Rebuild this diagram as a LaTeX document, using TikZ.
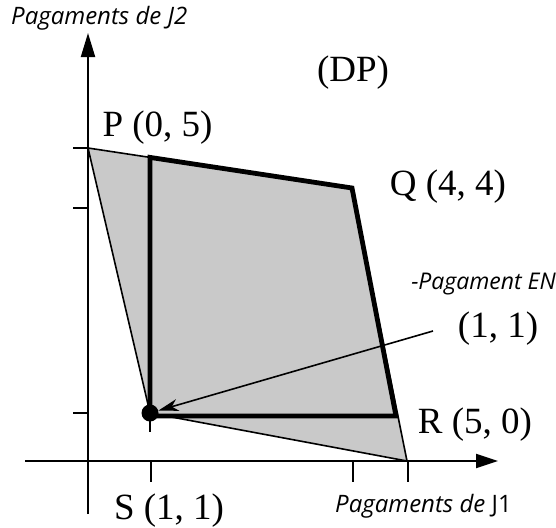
\documentclass[tikz,border=0pt]{standalone}
\usepackage{fontspec}
\setmainfont{Liberation Serif}
\newfontfamily\lblsans{Open Sans}
\usetikzlibrary{arrows.meta}
\tikzset{
  regionfill/.style={fill=black!21},
  thinedge/.style={draw=black, line width=1.6pt, line join=miter},
  thickedge/.style={draw=black, line width=4.8pt, line join=miter},
  axisline/.style={draw=black, line width=2pt},
  tickline/.style={draw=black, line width=2pt},
  seriflbl/.style={inner sep=0pt, font=\fontsize{37}{42}\selectfont},
  sanslbl/.style={inner sep=0pt, font=\lblsans\itshape\fontsize{24}{28}\selectfont},
}
\begin{document}
\begin{tikzpicture}[x=1pt,y=-1pt]
\useasboundingbox (0,0) rectangle (556,527);
% key points
\coordinate (P) at (88,148);
\coordinate (Q) at (352,188);
\coordinate (R) at (407,461);
\coordinate (S) at (150,413);
\coordinate (A) at (150,157.4);
\coordinate (B) at (396,416);
\coordinate (C) at (150,416);
% region
\fill[regionfill] (P) -- (Q) -- (R) -- (S) -- cycle;
\draw[thinedge] (P) -- (Q) -- (R) -- (S) -- cycle;
\draw[thickedge] (A) -- (Q) -- (B) -- (C) -- cycle;
% axes
\coordinate (xa0) at (25,461);
\coordinate (xa1) at (498,461);
\coordinate (ya0) at (88,514);
\coordinate (ya1) at (88,33);
\draw[axisline, -{Triangle[length=22pt,width=14pt]}] (xa0) -- (xa1);
\draw[axisline, -{Triangle[length=24pt,width=14pt]}] (ya0) -- (ya1);
% ticks
\coordinate (tx1a) at (151,461); \coordinate (tx1b) at (151,482);
\coordinate (tx2a) at (353,461); \coordinate (tx2b) at (353,482);
\coordinate (tx3a) at (408,461); \coordinate (tx3b) at (408,482);
\coordinate (ty1a) at (73,148); \coordinate (ty1b) at (88,148);
\coordinate (ty2a) at (73,208); \coordinate (ty2b) at (88,208);
\coordinate (ty3a) at (73,413); \coordinate (ty3b) at (88,413);
\draw[tickline] (tx1a) -- (tx1b);
\draw[tickline] (tx2a) -- (tx2b);
\draw[tickline] (tx3a) -- (tx3b);
\draw[tickline] (ty1a) -- (ty1b);
\draw[tickline] (ty2a) -- (ty2b);
\draw[tickline] (ty3a) -- (ty3b);
% equilibrium point
\coordinate (stub) at (150,432);
\draw[tickline] (S) -- (stub);
\node[circle, fill=black, inner sep=0pt, minimum size=17pt] (dot) at (S) {};
\coordinate (arrstart) at (433,331);
\draw[line width=1.6pt, -{Stealth[length=20pt,width=12pt,inset=6pt]}] (arrstart) -- (dot);
% labels
\node[sanslbl, anchor=west] (lj2) at (11,18) {Pagaments de J2};
\node[seriflbl] (ldp) at (353,73) {(DP)};
\node[seriflbl] (lp) at (157.5,128) {P (0, 5)};
\node[seriflbl] (lq) at (448,187) {Q (4, 4)};
\node[sanslbl, anchor=east, font=\lblsans\itshape\fontsize{23}{27}\selectfont] (len) at (556,284) {-Pagament EN};
\node[seriflbl] (l11) at (498,329) {(1, 1)};
\node[seriflbl] (lr) at (475,425) {R (5, 0)};
\node[seriflbl] (ls) at (169,511) {S (1, 1)};
\node[sanslbl, anchor=west] (lj1) at (335,506) {Pagaments \textit{de} {\upshape J1}};
\end{tikzpicture}
\end{document}
